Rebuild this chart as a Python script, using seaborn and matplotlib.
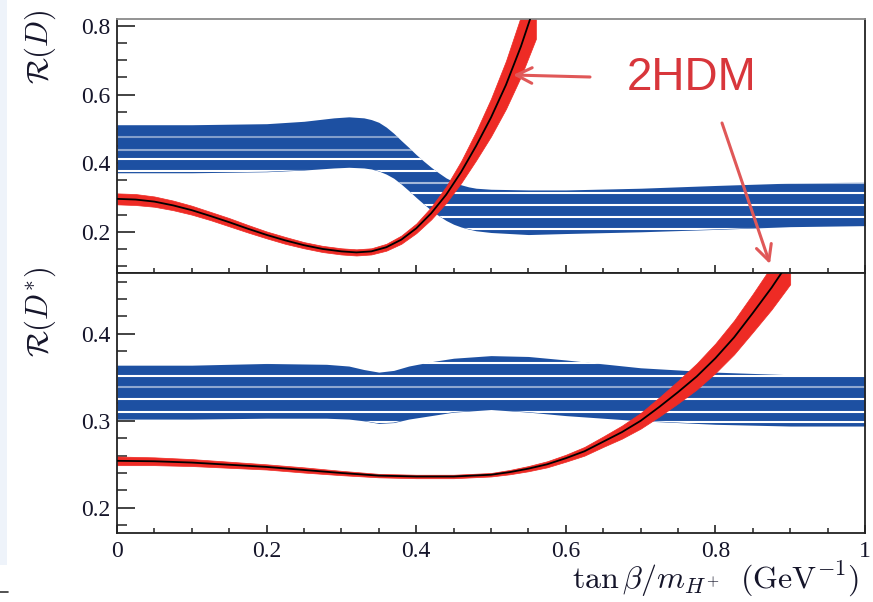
import matplotlib
matplotlib.use("Agg")
import matplotlib.pyplot as plt
import seaborn as sns
import pandas as pd
from matplotlib.ticker import MultipleLocator, FixedLocator, FixedFormatter
from matplotlib.patches import Rectangle, FancyArrowPatch
from matplotlib.lines import Line2D

# ---------------- data ----------------
x_ticks = [0, 0.2, 0.4, 0.6, 0.8, 1.0]
x_tick_labels = ["0", "0.2", "0.4", "0.6", "0.8", "1"]
rd_ticks = [0.2, 0.4, 0.6, 0.8]
rd_tick_labels = ["0.2", "0.4", "0.6", "0.8"]
rds_ticks = [0.2, 0.3, 0.4]
rds_tick_labels = ["0.2", "0.3", "0.4"]

# measured R(D) band (blue)
meas_rd_x = [0, 0.1, 0.2, 0.25, 0.27, 0.29, 0.31, 0.33, 0.34, 0.35, 0.36, 0.37, 0.38,
             0.39, 0.40, 0.41, 0.42, 0.43, 0.44, 0.45, 0.46, 0.47, 0.48, 0.5, 0.55, 0.6,
             0.7, 0.8, 0.9, 1.0]
meas_rd_hi = [0.512, 0.512, 0.515, 0.522, 0.527, 0.532, 0.535, 0.532, 0.527, 0.519, 0.505,
              0.487, 0.466, 0.446, 0.425, 0.406, 0.388, 0.372, 0.357, 0.346, 0.337, 0.331,
              0.327, 0.324, 0.322, 0.322, 0.327, 0.335, 0.342, 0.345]
meas_rd_lo = [0.372, 0.372, 0.375, 0.380, 0.383, 0.386, 0.388, 0.386, 0.383, 0.377, 0.368,
              0.356, 0.339, 0.320, 0.300, 0.281, 0.263, 0.247, 0.233, 0.222, 0.214, 0.208,
              0.203, 0.198, 0.192, 0.195, 0.200, 0.207, 0.215, 0.218]
meas_rd_stripes = [0.209, 0.242, 0.278, 0.314, 0.343, 0.376, 0.412, 0.438, 0.475]
meas_rd_stripe_alpha = [1.0, 1.0, 1.0, 1.0, 0.6, 1.0, 1.0, 0.5, 0.45]

# 2HDM R(D) prediction: central value and band half-width
thy_rd_x = [0, 0.025, 0.05, 0.075, 0.1, 0.125, 0.15, 0.175, 0.2, 0.225, 0.25, 0.275, 0.3,
            0.32, 0.34, 0.36, 0.38, 0.4, 0.42, 0.44, 0.46, 0.48, 0.5, 0.52, 0.54, 0.56]
thy_rd_c = [0.296, 0.294, 0.288, 0.277, 0.263, 0.246, 0.228, 0.209, 0.191, 0.175, 0.161,
            0.150, 0.143, 0.140, 0.143, 0.155, 0.177, 0.210, 0.254, 0.308, 0.374, 0.450,
            0.533, 0.628, 0.740, 0.870]
thy_rd_hw = [0.016, 0.016, 0.015, 0.014, 0.013, 0.012, 0.012, 0.011, 0.010, 0.010, 0.009,
             0.009, 0.009, 0.009, 0.009, 0.010, 0.012, 0.014, 0.018, 0.024, 0.032, 0.042,
             0.055, 0.070, 0.088, 0.108]

# measured R(D*) band (blue)
meas_rds_x = [0, 0.1, 0.2, 0.28, 0.31, 0.33, 0.35, 0.37, 0.39, 0.42, 0.45, 0.5, 0.55, 0.6,
              0.7, 0.8, 0.9, 1.0]
meas_rds_hi = [0.364, 0.364, 0.366, 0.365, 0.363, 0.359, 0.356, 0.358, 0.363, 0.368, 0.372,
               0.375, 0.374, 0.370, 0.361, 0.356, 0.353, 0.353]
meas_rds_lo = [0.302, 0.302, 0.303, 0.303, 0.302, 0.300, 0.297, 0.298, 0.302, 0.306, 0.310,
               0.313, 0.310, 0.306, 0.300, 0.296, 0.294, 0.294]
meas_rds_stripes = [0.299, 0.310, 0.325, 0.339, 0.352, 0.366]
meas_rds_stripe_alpha = [1.0, 1.0, 1.0, 0.5, 1.0, 1.0]

# 2HDM R(D*) prediction: central value and band half-width
thy_rds_x = [0, 0.05, 0.1, 0.15, 0.2, 0.25, 0.3, 0.35, 0.4, 0.45, 0.5, 0.525, 0.55, 0.575,
             0.6, 0.625, 0.65, 0.675, 0.7, 0.725, 0.75, 0.775, 0.8, 0.825, 0.85, 0.875, 0.9]
thy_rds_c = [0.254, 0.2535, 0.252, 0.2495, 0.247, 0.2435, 0.240, 0.237, 0.236, 0.236, 0.238,
             0.241, 0.245, 0.250, 0.257, 0.265, 0.276, 0.287, 0.300, 0.316, 0.333, 0.351,
             0.372, 0.396, 0.424, 0.453, 0.485]
thy_rds_hw = [0.005, 0.0045, 0.004, 0.0035, 0.003, 0.003, 0.0025, 0.002, 0.002, 0.002, 0.002,
              0.0025, 0.003, 0.0035, 0.004, 0.005, 0.006, 0.0075, 0.009, 0.011, 0.013, 0.015,
              0.017, 0.0195, 0.022, 0.025, 0.028]

# ---------------- style ----------------
sns.set_style("ticks")
plt.rcParams["font.family"] = ["Liberation Serif", "DejaVu Serif"]
plt.rcParams["mathtext.fontset"] = "cm"

BLUE = "#1d50a2"
RED = "#ee2b25"
ANN = "#d8363b"
TXT = "#15152a"

W, H = 873, 602
fig = plt.figure(figsize=(W / 100, H / 100), dpi=100)
fig.patch.set_facecolor("white")

L, R = 117 / W, 865 / W
ax1 = fig.add_axes([L, 1 - 273 / H, R - L, (273 - 19) / H])
ax2 = fig.add_axes([L, 1 - 533 / H, R - L, (533 - 273) / H])

# left pale strip and small mark (page decoration)
fig.patches.append(Rectangle((0, 1 - 565 / H), 7 / W, 565 / H, transform=fig.transFigure,
                             facecolor="#eef3fa", edgecolor="none", zorder=0))
fig.lines.append(Line2D([0, 8 / W], [1 - 592 / H, 1 - 592 / H], transform=fig.transFigure,
                        color="#333333", lw=1.2))


def draw_panel(ax, mx, mlo, mhi, stripes, salpha, tx, tc, thw):
    band = ax.fill_between(mx, mlo, mhi, color=BLUE, lw=0, zorder=1)
    clip = band.get_paths()[0]
    for s, a in zip(stripes, salpha):
        ln = ax.axhline(s, color="white", lw=1.5, alpha=a, zorder=1.5)
        ln.set_clip_path(clip, ax.transData)
    tlo = [c - h for c, h in zip(tc, thw)]
    thi = [c + h for c, h in zip(tc, thw)]
    ax.fill_between(tx, tlo, thi, color=RED, lw=0.5, edgecolor=RED, zorder=2)
    df = pd.DataFrame({"x": tx, "y": tc})
    sns.lineplot(data=df, x="x", y="y", ax=ax, color="black", lw=1.3, zorder=3,
                 sort=False, estimator=None)
    ax.set_xlim(0, 1)
    ax.xaxis.set_major_locator(FixedLocator(x_ticks))
    ax.xaxis.set_minor_locator(MultipleLocator(0.05))
    for side in ["left", "right", "top", "bottom"]:
        ax.spines[side].set_visible(True)
        ax.spines[side].set_linewidth(1.3)
        ax.spines[side].set_color("#222222")
    ax.tick_params(axis="y", which="major", direction="in", length=13, width=1.2,
                   color="#222222", labelsize=17, labelcolor=TXT, pad=5, right=False)
    ax.tick_params(axis="y", which="minor", direction="in", length=7, width=1.1,
                   color="#222222", right=False)
    ax.tick_params(axis="x", which="major", direction="in", length=6, width=1.2,
                   color="#222222", labelsize=17, labelcolor=TXT, pad=6, top=False)
    ax.tick_params(axis="x", which="minor", direction="in", length=3.5, width=1.1,
                   color="#222222", top=False)
    ax.set_xlabel("")
    ax.set_ylabel("")


draw_panel(ax1, meas_rd_x, meas_rd_lo, meas_rd_hi, meas_rd_stripes, meas_rd_stripe_alpha,
           thy_rd_x, thy_rd_c, thy_rd_hw)
draw_panel(ax2, meas_rds_x, meas_rds_lo, meas_rds_hi, meas_rds_stripes, meas_rds_stripe_alpha,
           thy_rds_x, thy_rds_c, thy_rds_hw)

ax1.spines["top"].set_color("#8a8a8a")

ax1.set_ylim(0.08, 0.82)
ax1.yaxis.set_major_locator(FixedLocator(rd_ticks))
ax1.yaxis.set_major_formatter(FixedFormatter(rd_tick_labels))
ax1.yaxis.set_minor_locator(MultipleLocator(0.05))
ax1.tick_params(axis="x", labelbottom=False)

ax2.set_ylim(0.171, 0.470)
ax2.yaxis.set_major_locator(FixedLocator(rds_ticks))
ax2.yaxis.set_major_formatter(FixedFormatter(rds_tick_labels))
ax2.yaxis.set_minor_locator(MultipleLocator(0.02))
ax2.xaxis.set_major_formatter(FixedFormatter(x_tick_labels))

# axis titles (ROOT style, at top / right ends)
ax1.set_ylabel(r"$\mathcal{R}(D)$", fontsize=22, color=TXT, loc="top")
ax1.yaxis.set_label_coords(-0.079, 1.035)
ax2.set_ylabel(r"$\mathcal{R}(D^{*})$", fontsize=22, color=TXT, loc="top")
ax2.yaxis.set_label_coords(-0.079, 1.025)
ax2.set_xlabel(r"$\tan\beta/m_{H^{+}}\ \ (\mathrm{GeV}^{-1})$", fontsize=23, color=TXT,
               loc="right")
ax2.xaxis.set_label_coords(0.993, -0.105)

# annotation
fig.text(692 / W, 1 - 78 / H, "2HDM", color=ANN, fontsize=33, ha="center", va="center",
         family=["Liberation Sans", "DejaVu Sans"])
arrow_kw = dict(arrowstyle="->", color="#e05858", lw=2.2, mutation_scale=28,
                shrinkA=0, shrinkB=0)
fig.add_artist(FancyArrowPatch((590 / W, 1 - 77 / H), (513 / W, 1 - 75 / H),
                               transform=fig.transFigure, **arrow_kw))
fig.add_artist(FancyArrowPatch((722 / W, 1 - 123 / H), (770 / W, 1 - 264 / H),
                               transform=fig.transFigure, **arrow_kw))

fig.savefig("out.png", dpi=100)
